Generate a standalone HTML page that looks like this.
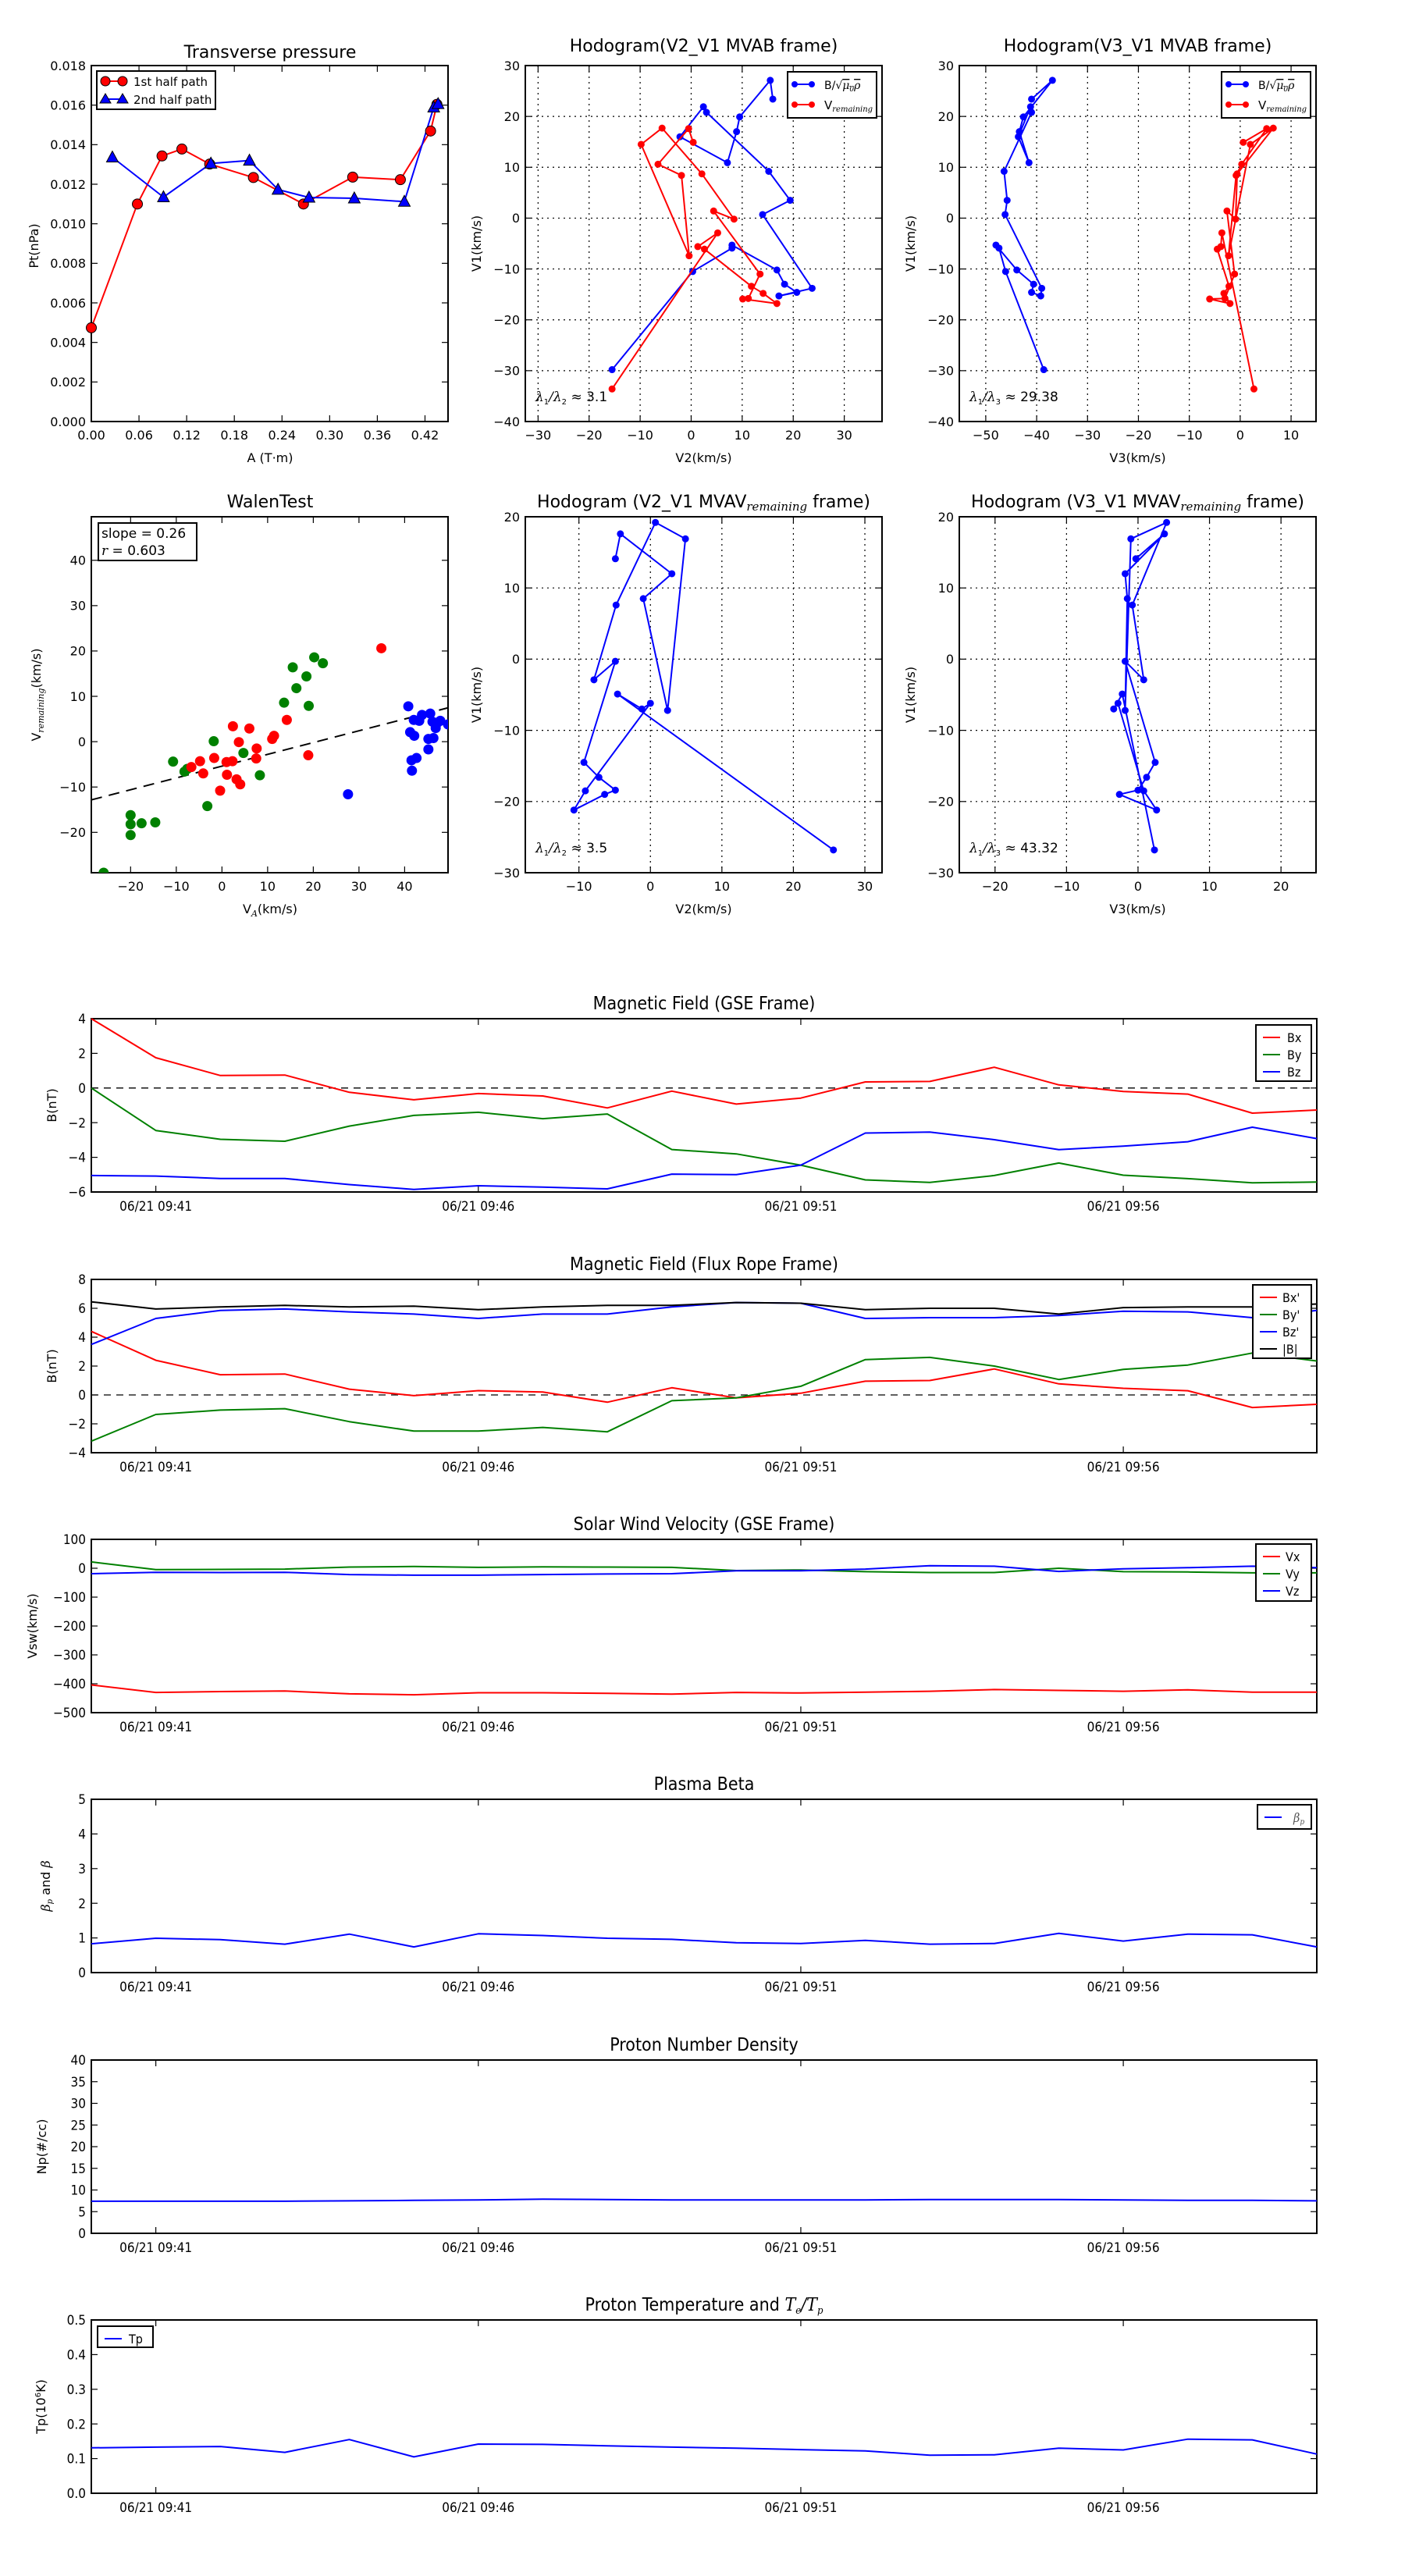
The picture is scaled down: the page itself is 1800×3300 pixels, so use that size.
<!DOCTYPE html>
<html><head><meta charset="utf-8"><style>
html,body{margin:0;padding:0;background:#fff;}
svg{display:block;}
.t{font-family:"DejaVu Sans","Liberation Sans",sans-serif;fill:#000;}
.c{font-family:"DejaVu Sans Condensed","Liberation Sans Narrow","DejaVu Sans",sans-serif;font-stretch:condensed;fill:#000;}
.m{font-family:"DejaVu Serif","Liberation Serif",serif;font-style:italic;}
</style></head><body>
<svg id="fig" width="1800" height="3300" viewBox="0 0 1800 3300" xmlns="http://www.w3.org/2000/svg"></svg>
<script>
// ---------- data ----------
const ptRedA = [0, 0.058, 0.089, 0.114, 0.149, 0.204, 0.267, 0.329, 0.389, 0.427, 0.435];
const ptRedP = [0.00474, 0.0110, 0.01343, 0.01378, 0.01302, 0.01234, 0.0110, 0.01236, 0.01223, 0.01469, 0.01604];
const ptBlueA = [0.0265, 0.0908, 0.1505, 0.199, 0.235, 0.274, 0.331, 0.394, 0.431, 0.4365];
const ptBlueP = [0.01336, 0.01135, 0.01305, 0.0132, 0.01173, 0.01133, 0.01129, 0.01112, 0.01589, 0.01606];

const bV1 = [-29.8,-10.5,-5.9,-5.3,-10.2,-13.0,-14.6,-15.3,-13.8,0.7,3.5,9.2,20.8,21.9,16.0,10.9,17.0,19.9,27.1,23.4];
const bV2 = [-15.5,0.3,8.0,8.0,16.8,18.3,20.7,17.2,23.7,14.0,19.4,15.2,3.0,2.4,-2.2,7.1,8.9,9.5,15.5,16.0];
const bV3 = [-38.6,-46.1,-47.4,-48.0,-43.9,-40.6,-41.0,-39.2,-39.0,-46.2,-45.8,-46.4,-41.0,-41.2,-43.6,-41.5,-43.4,-42.6,-36.9,-41.0];
const vV1 = [-33.6,-2.9,-5.6,-6.1,-13.4,-14.8,-16.8,-15.9,-15.8,-11.0,1.4,-0.2,8.7,17.7,14.5,-7.4,8.4,10.6,17.6,14.9];
const vV2 = [-15.5,5.2,1.3,2.6,11.8,14.1,16.8,10.1,11.2,13.5,4.4,8.4,2.1,-5.7,-9.8,-0.4,-1.9,-6.5,-0.5,0.4];
const vV3 = [2.7,-3.6,-3.8,-4.5,-2.2,-3.2,-2.0,-6.0,-3.0,-1.1,-2.6,-0.9,-0.6,6.5,2.0,-2.3,-0.8,0.3,5.2,0.6];

const mV1 = [-26.8,-4.9,-7.0,-6.2,-18.5,-21.2,-19.0,-18.4,-16.6,-14.5,-0.3,-2.9,7.6,19.2,16.9,-7.2,8.5,12.0,17.6,14.1];
const mV2 = [25.6,-4.6,-1.2,0.0,-9.1,-10.7,-6.4,-4.9,-7.2,-9.3,-4.9,-7.9,-4.8,0.7,4.9,2.4,-1.0,3.0,-4.2,-4.9];
const mV3 = [2.3,-2.2,-3.4,-2.8,0.8,2.6,-2.6,0.0,1.2,2.4,-1.8,0.8,-0.8,4.0,-1.0,-1.8,-1.5,-1.8,3.7,-0.3];

const walGreenX = [-25.9,-20,-20,-20,-17.6,-14.6,-10.7,-8.2,-7.6,-1.8,-3.2,4.7,8.3,13.6,15.5,16.3,18.5,19.0,20.2,22.1];
const walGreenY = [-28.9,-16.2,-18.2,-20.6,-18,-17.8,-4.4,-6.6,-6,0.1,-14.2,-2.5,-7.4,8.6,16.4,11.8,14.4,7.9,18.6,17.3];
const walRedX = [-6.7,-4.8,-4.1,-1.7,-0.4,1.0,1.1,2.3,2.4,3.2,3.7,4.0,6.0,7.5,7.6,11.0,11.4,14.2,18.9,34.9];
const walRedY = [-5.6,-4.3,-7.0,-3.6,-10.8,-4.5,-7.3,-4.3,3.4,-8.3,-0.1,-9.4,2.9,-3.7,-1.5,0.6,1.3,4.8,-3.0,20.6];
const walBlueX = [27.6,40.8,41.2,41.5,41.6,42.0,42.1,42.6,43.0,43.2,43.8,45.2,45.2,45.6,46.1,46.3,46.8,47.2,47.8,49.5];
const walBlueY = [-11.6,7.8,2.1,-4.1,-6.4,4.8,1.3,-3.6,4.7,4.6,5.9,0.6,-1.7,6.2,4.4,0.8,3.0,4.2,4.6,3.8];
const walSlope = 0.26;
const walIntercept = -5.4;

const timeTickIdx = [1, 6, 11, 16];
const timeTickLabels = ["06/21 09:41","06/21 09:46","06/21 09:51","06/21 09:56"];

const gseBx = [4.0,1.75,0.72,0.75,-0.25,-0.68,-0.32,-0.46,-1.15,-0.18,-0.93,-0.58,0.35,0.38,1.2,0.18,-0.2,-0.35,-1.45,-1.27];
const gseBy = [0,-2.45,-2.96,-3.07,-2.2,-1.58,-1.4,-1.77,-1.5,-3.55,-3.8,-4.45,-5.3,-5.45,-5.05,-4.33,-5.03,-5.23,-5.47,-5.43];
const gseBz = [-5.05,-5.08,-5.22,-5.22,-5.57,-5.85,-5.64,-5.72,-5.82,-4.97,-5.0,-4.45,-2.6,-2.54,-2.98,-3.56,-3.35,-3.1,-2.26,-2.92];

const frBx = [4.4,2.4,1.4,1.45,0.4,-0.05,0.3,0.2,-0.5,0.5,-0.2,0.12,0.95,1.0,1.8,0.77,0.46,0.29,-0.87,-0.65];
const frBy = [-3.2,-1.35,-1.05,-0.95,-1.85,-2.5,-2.5,-2.25,-2.55,-0.4,-0.2,0.6,2.45,2.6,2.0,1.07,1.77,2.07,2.9,2.35];
const frBz = [3.5,5.3,5.85,5.95,5.75,5.6,5.3,5.6,5.6,6.1,6.4,6.35,5.3,5.35,5.35,5.5,5.8,5.75,5.35,5.85];
const frBt = [6.45,5.95,6.1,6.2,6.1,6.15,5.9,6.1,6.2,6.2,6.4,6.35,5.9,6.0,6.0,5.6,6.05,6.1,6.1,6.3];

const velVx = [-404,-430,-427,-425,-435,-438,-431,-431,-433,-436,-430,-432,-429,-426,-420,-423,-426,-421,-429,-429];
const velVy = [22,-5,-4,-3,4,6,3,5,4,3,-8,-6,-12,-15,-15,0,-12,-13,-16,-16];
const velVz = [-19,-14,-15,-14,-22,-24,-24,-22,-20,-19,-9,-9,-3,9,7,-11,-2,2,7,2];

const betaP = [0.83,0.99,0.95,0.82,1.11,0.74,1.12,1.07,0.99,0.96,0.86,0.84,0.93,0.82,0.84,1.13,0.91,1.11,1.09,0.74];
const densNp = [7.4,7.4,7.4,7.4,7.5,7.6,7.7,7.9,7.8,7.7,7.7,7.7,7.7,7.8,7.8,7.8,7.7,7.6,7.6,7.5];
const tempTp = [0.131,0.133,0.135,0.118,0.155,0.105,0.142,0.141,0.137,0.133,0.130,0.126,0.122,0.110,0.111,0.130,0.125,0.156,0.154,0.113];

// ---------- helpers ----------
const NS = 'http://www.w3.org/2000/svg';
const svg = document.getElementById('fig');
function mk(tag, attrs, parent){
  const e = document.createElementNS(NS, tag);
  for (const k in attrs) e.setAttribute(k, attrs[k]);
  (parent || svg).appendChild(e);
  return e;
}
function fmtNum(v, d){ const s = v.toFixed(d); return s.replace('-', '\u2212'); }
function scale(d0, d1, r0, r1){ return v => r0 + (v - d0) / (d1 - d0) * (r1 - r0); }

function axesFrame(L, T, R, B, name){
  const r = mk('rect', {x:L, y:T, width:R-L, height:B-T, fill:'none', stroke:'#000', 'stroke-width':2});
  
  
}
function yTicks(L, R, sy, ticks, d, cls, fs, grid, name){
  ticks.forEach(t => {
    const y = sy(t);
    if (grid) {
      const g = mk('line', {x1:L, x2:R, y1:y, y2:y, stroke:'#000', 'stroke-width':1.2, 'stroke-dasharray':'2,5'});
      
      
    }
    mk('line', {x1:L, x2:L+8, y1:y, y2:y, stroke:'#000', 'stroke-width':1.2});
    mk('line', {x1:R-8, x2:R, y1:y, y2:y, stroke:'#000', 'stroke-width':1.2});
    const tx = mk('text', {x:L-7, y:y+fs*0.36, 'text-anchor':'end', 'font-size':fs, class:cls});
    tx.textContent = fmtNum(t, d);
    
    
  });
}
function xTicks(T, B, sx, ticks, labels, cls, fs, grid, name){
  ticks.forEach((t, i) => {
    const x = sx(t);
    if (grid) {
      const g = mk('line', {x1:x, x2:x, y1:T, y2:B, stroke:'#000', 'stroke-width':1.2, 'stroke-dasharray':'2,5'});
      
      
    }
    mk('line', {x1:x, x2:x, y1:B, y2:B-8, stroke:'#000', 'stroke-width':1.2});
    mk('line', {x1:x, x2:x, y1:T, y2:T+8, stroke:'#000', 'stroke-width':1.2});
    const tx = mk('text', {x:x, y:B+fs+7, 'text-anchor':'middle', 'font-size':fs, class:cls});
    tx.textContent = labels[i];
    
    
  });
}
function txt(x, y, s, fs, cls, anchor, name, rot){
  const a = {x:x, y:y, 'font-size':fs, class:cls, 'text-anchor':anchor || 'middle'};
  if (rot) a.transform = 'rotate(-90 ' + x + ' ' + y + ')';
  const t = mk('text', a);
  t.textContent = s;
  
  
  return t;
}
function polyline(xs, ys, sx, sy, color, w, name){
  const pts = xs.map((v, i) => sx(v).toFixed(1) + ',' + sy(ys[i]).toFixed(1)).join(' ');
  const p = mk('polyline', {points:pts, fill:'none', stroke:color, 'stroke-width':w, 'stroke-linejoin':'round'});
  
  
}
function dots(xs, ys, sx, sy, color, r, stroke, name){
  xs.forEach((v, i) => {
    const c = mk('circle', {cx:sx(v), cy:sy(ys[i]), r:r, fill:color, stroke:stroke || 'none', 'stroke-width':1});
    
    
  });
}
function tris(xs, ys, sx, sy, color, name){
  xs.forEach((v, i) => {
    const x = sx(v), y = sy(ys[i]);
    const p = mk('polygon', {points:(x)+','+(y-8)+' '+(x-7.5)+','+(y+6)+' '+(x+7.5)+','+(y+6), fill:color, stroke:'#000', 'stroke-width':1});
    
    
  });
}
function legendBox(x, y, w, h, name){
  const r = mk('rect', {x:x, y:y, width:w, height:h, fill:'#fff', stroke:'#000', 'stroke-width':2});
  
  
}
function range(a, b, s){ const o = []; for (let v = a; v <= b + 1e-9; v += s) o.push(Math.round(v*1000)/1000); return o; }

// ---------- Panel 1: Transverse pressure ----------
(function(){
  const L=117,R=574,T=84,B=540;
  const sx = scale(0, 0.449, L, R), sy = scale(0, 0.018, B, T);
  axesFrame(L,T,R,B,'pressure-axes');
  const xt = range(0, 0.42, 0.06);
  xTicks(T,B,sx,xt,xt.map(v=>v.toFixed(2)),'t',16,false,'pressure-x');
  yTicks(L,R,sy,range(0,0.018,0.002),3,'t',16,false,'pressure-y');
  polyline(ptRedA, ptRedP, sx, sy, '#ff0000', 2, 'first-half-path-line');
  polyline(ptBlueA, ptBlueP, sx, sy, '#0000ff', 2, 'second-half-path-line');
  dots(ptRedA, ptRedP, sx, sy, '#ff0000', 6.5, '#000', 'first-half-point');
  tris(ptBlueA, ptBlueP, sx, sy, '#0000ff', 'second-half-point');
  txt(346, 74, 'Transverse pressure', 22, 't', 'middle', 'pressure-title');
  txt(346, 592, 'A (T\u00b7m)', 16, 't', 'middle', 'pressure-x-title');
  txt(49, 315, 'Pt(nPa)', 16, 't', 'middle', 'pressure-y-title', true);
  legendBox(124, 91, 152, 49, 'pressure-legend');
  mk('line',{x1:135,x2:157,y1:104,y2:104,stroke:'#f00','stroke-width':2});
  mk('circle',{cx:135,cy:104,r:6,fill:'#f00',stroke:'#000'}); mk('circle',{cx:157,cy:104,r:6,fill:'#f00',stroke:'#000'});
  txt(171, 110, '1st half path', 15, 't', 'start', 'legend-first-half');
  mk('line',{x1:135,x2:157,y1:127,y2:127,stroke:'#00f','stroke-width':2});
  mk('polygon',{points:'135,120 128,132 142,132',fill:'#00f',stroke:'#000'}); mk('polygon',{points:'157,120 150,132 164,132',fill:'#00f',stroke:'#000'});
  txt(171, 133, '2nd half path', 15, 't', 'start', 'legend-second-half');
})();

// ---------- Hodogram helper ----------
function hodogram(o){
  const sx = scale(o.x0, o.x1, o.L, o.R), sy = scale(o.y0, o.y1, o.B, o.T);
  axesFrame(o.L,o.T,o.R,o.B,o.name+'-axes');
  xTicks(o.T,o.B,sx,o.xt,o.xt.map(v=>fmtNum(v,0)),'t',16,true,o.name+'-x');
  yTicks(o.L,o.R,sy,o.yt,0,'t',16,true,o.name+'-y');
  o.series.forEach(s => {
    polyline(s.x, s.y, sx, sy, s.color, 2, s.name + '-line');
    dots(s.x, s.y, sx, sy, s.color, 4.5, null, s.name + '-point');
  });
  const tl = txt((o.L+o.R)/2, o.T-10-(o.tOff||8), '', 22, 't', 'middle', o.name+'-title');
  tl.innerHTML = o.title;
  txt((o.L+o.R)/2, o.B+52, o.xlab, 16, 't', 'middle', o.name+'-x-title');
  txt(o.L-57, (o.T+o.B)/2, 'V1(km/s)', 16, 't', 'middle', o.name+'-y-title', true);
  const lt = mk('text', {x:o.L+13, y:o.B-26, 'font-size':17, class:'t'});
  lt.innerHTML = o.lam;
  
  
  if (o.legend) {
    const lx = o.R - 121;
    legendBox(lx, o.T+8, 114, 59, o.name+'-legend');
    mk('line',{x1:lx+9,x2:lx+31,y1:o.T+24,y2:o.T+24,stroke:'#00f','stroke-width':2});
    mk('circle',{cx:lx+9,cy:o.T+24,r:4,fill:'#00f'}); mk('circle',{cx:lx+31,cy:o.T+24,r:4,fill:'#00f'});
    const a = mk('text',{x:lx+47,y:o.T+30,'font-size':14,class:'t'});
    a.innerHTML = 'B/\u221a<tspan class="m" text-decoration="overline">\u03bc<tspan font-size="9" dy="3">0</tspan><tspan dy="-3">\u03c1</tspan></tspan>';
    
    
    mk('line',{x1:lx+9,x2:lx+31,y1:o.T+50,y2:o.T+50,stroke:'#f00','stroke-width':2});
    mk('circle',{cx:lx+9,cy:o.T+50,r:4,fill:'#f00'}); mk('circle',{cx:lx+31,cy:o.T+50,r:4,fill:'#f00'});
    const b = mk('text',{x:lx+47,y:o.T+56,'font-size':15,class:'t'});
    b.innerHTML = 'V<tspan class="m" font-size="10" dy="3">remaining</tspan>';
    
    
  }
}
const remSub = '<tspan class="m" font-size="15" dy="4">remaining</tspan><tspan dy="-4">';
hodogram({name:'hodo-v2v1-mvab',L:673,R:1130,T:84,B:540,x0:-32.5,x1:37.4,y0:-40,y1:30,xt:range(-30,30,10),yt:range(-40,30,10),
  title:'Hodogram(V2_V1 MVAB frame)',xlab:'V2(km/s)',legend:true,
  lam:'<tspan class="m">\u03bb</tspan><tspan font-size="10" dy="4">1</tspan><tspan dy="-4" class="m">/\u03bb</tspan><tspan font-size="10" dy="4">2</tspan><tspan dy="-4"> \u2248 3.1</tspan>',
  series:[{x:bV2,y:bV1,color:'#0000ff',name:'b-alfven'},{x:vV2,y:vV1,color:'#ff0000',name:'v-remaining'}]});
hodogram({name:'hodo-v3v1-mvab',L:1229,R:1686,T:84,B:540,x0:-55.2,x1:14.9,y0:-40,y1:30,xt:range(-50,10,10),yt:range(-40,30,10),
  title:'Hodogram(V3_V1 MVAB frame)',xlab:'V3(km/s)',legend:true,
  lam:'<tspan class="m">\u03bb</tspan><tspan font-size="10" dy="4">1</tspan><tspan dy="-4" class="m">/\u03bb</tspan><tspan font-size="10" dy="4">3</tspan><tspan dy="-4"> \u2248 29.38</tspan>',
  series:[{x:bV3,y:bV1,color:'#0000ff',name:'b-alfven'},{x:vV3,y:vV1,color:'#ff0000',name:'v-remaining'}]});
hodogram({name:'hodo-v2v1-mvav',L:673,R:1130,T:662,B:1118,x0:-17.5,x1:32.4,y0:-30,y1:20,xt:range(-10,30,10),yt:range(-30,20,10),
  title:'Hodogram (V2_V1 MVAV'+remSub+' frame)</tspan>',xlab:'V2(km/s)',legend:false,tOff:2,
  lam:'<tspan class="m">\u03bb</tspan><tspan font-size="10" dy="4">1</tspan><tspan dy="-4" class="m">/\u03bb</tspan><tspan font-size="10" dy="4">2</tspan><tspan dy="-4"> \u2248 3.5</tspan>',
  series:[{x:mV2,y:mV1,color:'#0000ff',name:'mvav-v2v1'}]});
hodogram({name:'hodo-v3v1-mvav',L:1229,R:1686,T:662,B:1118,x0:-25,x1:24.9,y0:-30,y1:20,xt:range(-20,20,10),yt:range(-30,20,10),
  title:'Hodogram (V3_V1 MVAV'+remSub+' frame)</tspan>',xlab:'V3(km/s)',legend:false,tOff:2,
  lam:'<tspan class="m">\u03bb</tspan><tspan font-size="10" dy="4">1</tspan><tspan dy="-4" class="m">/\u03bb</tspan><tspan font-size="10" dy="4">3</tspan><tspan dy="-4"> \u2248 43.32</tspan>',
  series:[{x:mV3,y:mV1,color:'#0000ff',name:'mvav-v3v1'}]});

// ---------- Walen test ----------
(function(){
  const L=117,R=574,T=662,B=1118;
  const sx = scale(-28.6, 49.5, L, R), sy = scale(-28.9, 49.6, B, T);
  const cp = mk('clipPath',{id:'walclip'}); mk('rect',{x:L,y:T,width:R-L,height:B-T},cp);
  axesFrame(L,T,R,B,'walen-axes');
  const xt = range(-20,40,10);
  xTicks(T,B,sx,xt,xt.map(v=>fmtNum(v,0)),'t',16,false,'walen-x');
  yTicks(L,R,sy,range(-20,40,10),0,'t',16,false,'walen-y');
  const g = mk('g',{'clip-path':'url(#walclip)'});
  const xa = -28.6, xb = 49.5;
  const ln = mk('line',{x1:sx(xa),y1:sy(walSlope*xa+walIntercept),x2:sx(xb),y2:sy(walSlope*xb+walIntercept),stroke:'#000','stroke-width':2,'stroke-dasharray':'14,9'},g);
  
  
  [[walGreenX,walGreenY,'#008000','walen-point-green'],[walRedX,walRedY,'#ff0000','walen-point-red'],[walBlueX,walBlueY,'#0000ff','walen-point-blue']].forEach(s=>{
    s[0].forEach((v,i)=>{
      const c = mk('circle',{cx:sx(v),cy:sy(s[1][i]),r:6.5,fill:s[2]},g);
      
      
    });
  });
  txt(346, 650, 'WalenTest', 22, 't', 'middle', 'walen-title');
  const xl = mk('text',{x:346,y:1170,'font-size':16,class:'t','text-anchor':'middle'});
  xl.innerHTML = 'V<tspan class="m" font-size="11" dy="4">A</tspan><tspan dy="-4">(km/s)</tspan>';
  
  
  const yl = mk('text',{x:52,y:890,'font-size':16,class:'t','text-anchor':'middle',transform:'rotate(-90 52 890)'});
  yl.innerHTML = 'V<tspan class="m" font-size="11" dy="4">remaining</tspan><tspan dy="-4">(km/s)</tspan>';
  
  
  legendBox(126, 670, 126, 48, 'walen-stats-box');
  txt(130, 689, 'slope = 0.26', 17, 't', 'start', 'walen-slope');
  const r = mk('text',{x:130,y:711,'font-size':17,class:'t'});
  r.innerHTML = '<tspan class="m">r</tspan> = 0.603';
  
  
})();

// ---------- Time series ----------
function tseries(o){
  const L=117,R=1687,T=o.top,B=o.top+222;
  const sx = scale(0, 19, L, R), sy = scale(o.y0, o.y1, B, T);
  axesFrame(L,T,R,B,o.name+'-axes');
  xTicks(T,B,sx,timeTickIdx,timeTickLabels,'c',17,false,o.name+'-x');
  yTicks(L,R,sy,o.yt,o.dec,'c',17,false,o.name+'-y');
  if (o.zero) {
    const z = mk('line',{x1:L,x2:R,y1:sy(0),y2:sy(0),stroke:'#000','stroke-width':1.3,'stroke-dasharray':'9,7'});
    
    
  }
  const idx = o.series[0].v.map((_,i)=>i);
  o.series.forEach(s => polyline(idx, s.v, sx, sy, s.c, 2, o.name+'-'+s.n+'-line'));
  const t = mk('text',{x:(L+R)/2,y:T-12,'font-size':23,class:'c','text-anchor':'middle'});
  t.innerHTML = o.title;
  
  
  const yl = mk('text',{x:o.ylx,y:(T+B)/2,'font-size':16,class:'t','text-anchor':'middle',transform:'rotate(-90 '+o.ylx+' '+((T+B)/2)+')'});
  yl.innerHTML = o.ylab;
  
  
  if (o.leg) {
    const g = o.leg;
    legendBox(g.x, T+g.dy, g.w, g.h, o.name+'-legend');
    o.series.forEach((s,i) => {
      const yy = T+g.dy+16+i*g.step;
      mk('line',{x1:g.x+9,x2:g.x+31,y1:yy,y2:yy,stroke:s.c,'stroke-width':2});
      const lt = mk('text',{x:g.x+g.tx,y:yy+6,'font-size':16,class:'c'});
      lt.innerHTML = s.label;
      
      
    });
  }
}
tseries({name:'bgse',top:1305,y0:-6,y1:4,yt:range(-6,4,2),dec:0,zero:true,title:'Magnetic Field (GSE Frame)',ylab:'B(nT)',ylx:72,
  series:[{v:gseBx,c:'#ff0000',n:'bx',label:'Bx'},{v:gseBy,c:'#008000',n:'by',label:'By'},{v:gseBz,c:'#0000ff',n:'bz',label:'Bz'}],
  leg:{x:1609,dy:8,w:71,h:72,step:22,tx:40}});
tseries({name:'bfr',top:1639,y0:-4,y1:8,yt:range(-4,8,2),dec:0,zero:true,title:'Magnetic Field (Flux Rope Frame)',ylab:'B(nT)',ylx:72,
  series:[{v:frBx,c:'#ff0000',n:'bx',label:"Bx'"},{v:frBy,c:'#008000',n:'by',label:"By'"},{v:frBz,c:'#0000ff',n:'bz',label:"Bz'"},{v:frBt,c:'#000000',n:'btotal',label:'|B|'}],
  leg:{x:1605,dy:7,w:75,h:94,step:22,tx:38}});
tseries({name:'vsw',top:1972,y0:-500,y1:100,yt:range(-500,100,100),dec:0,zero:false,title:'Solar Wind Velocity (GSE Frame)',ylab:'Vsw(km/s)',ylx:47,
  series:[{v:velVx,c:'#ff0000',n:'vx',label:'Vx'},{v:velVy,c:'#008000',n:'vy',label:'Vy'},{v:velVz,c:'#0000ff',n:'vz',label:'Vz'}],
  leg:{x:1609,dy:6,w:71,h:73,step:22,tx:38}});
tseries({name:'beta',top:2305,y0:0,y1:5,yt:range(0,5,1),dec:0,zero:false,title:'Plasma Beta',
  ylab:'<tspan class="m">\u03b2<tspan font-size="10" dy="3">p</tspan></tspan><tspan dy="-3"> and </tspan><tspan class="m">\u03b2</tspan>',ylx:64,
  series:[{v:betaP,c:'#0000ff',n:'betap',label:'<tspan class="m" fill="#555">\u03b2<tspan font-size="10" dy="3">p</tspan></tspan>'}],
  leg:{x:1611,dy:7,w:69,h:31,step:22,tx:46}});
tseries({name:'np',top:2639,y0:0,y1:40,yt:range(0,40,5),dec:0,zero:false,title:'Proton Number Density',ylab:'Np(#/cc)',ylx:59,
  series:[{v:densNp,c:'#0000ff',n:'np',label:'Np'}]});
tseries({name:'tp',top:2972,y0:0,y1:0.5,yt:range(0,0.5,0.1),dec:1,zero:false,
  title:'Proton Temperature and <tspan class="m">T<tspan font-size="13" dy="4">e</tspan><tspan dy="-4">/T</tspan><tspan font-size="13" dy="4">p</tspan></tspan>',
  ylab:'Tp(10<tspan font-size="10" dy="-6">6</tspan><tspan dy="6">K)</tspan>',ylx:58,
  series:[{v:tempTp,c:'#0000ff',n:'tp',label:'Tp'}],
  leg:{x:125,dy:8,w:71,h:27,step:22,tx:40}});
</script>
</body></html>
